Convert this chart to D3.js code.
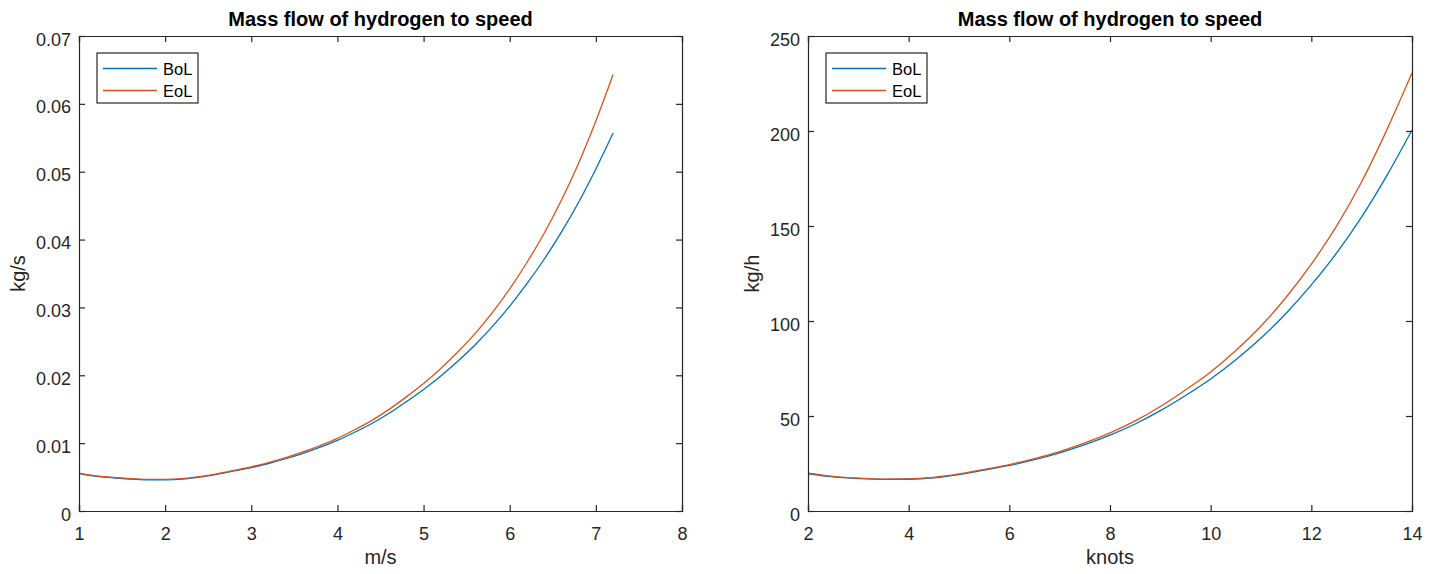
<!DOCTYPE html>
<html>
<head>
<meta charset="utf-8">
<script src="https://cdn.jsdelivr.net/npm/d3@7"></script>
<style>
  html, body { margin: 0; padding: 0; background: #ffffff; }
  svg { display: block; font-family: "Liberation Sans", Arial, Helvetica, sans-serif; }
</style>
</head>
<body>
<svg id="chart" width="1434" height="574"></svg>
<script>
// ---------- DATA ----------
const seriesNames = ["BoL", "EoL"];
const seriesColors = ["#0072BD", "#D95319"];

// Left panel: speed in m/s, mass flow in kg/s
const leftSpeed = [1.0, 1.2, 1.4, 1.6, 1.8, 2.0, 2.2, 2.4, 2.6, 2.8, 3.0, 3.2, 3.4, 3.6, 3.8, 4.0,
                   4.2, 4.4, 4.6, 4.8, 5.0, 5.2, 5.4, 5.6, 5.8, 6.0, 6.2, 6.4, 6.6, 6.8, 7.0, 7.2];
const leftBoL = [0.0055, 0.0051, 0.0049, 0.0047, 0.0046, 0.0046, 0.0047, 0.0050, 0.0054, 0.0059, 0.0064,
                 0.0070, 0.0077, 0.0085, 0.0094, 0.0104, 0.0116, 0.0129, 0.0144, 0.0161, 0.0179, 0.0199,
                 0.0221, 0.0245, 0.0272, 0.0302, 0.0335, 0.0371, 0.0411, 0.0455, 0.0504, 0.0557];
const leftEoL = [0.00558, 0.00517, 0.00497, 0.00476, 0.00466, 0.00466, 0.00476, 0.00507, 0.00548, 0.00600,
                 0.00651, 0.00714, 0.00786, 0.00870, 0.00965, 0.01070, 0.01197, 0.01336, 0.01498, 0.01682,
                 0.01879, 0.02100, 0.02346, 0.02617, 0.02926, 0.03274, 0.03662, 0.04093, 0.04580, 0.05126,
                 0.05746, 0.06432];
const leftXTicks = [1, 2, 3, 4, 5, 6, 7, 8];
const leftYTicks = [0, 0.01, 0.02, 0.03, 0.04, 0.05, 0.06, 0.07];
const leftYTickLabels = ["0", "0.01", "0.02", "0.03", "0.04", "0.05", "0.06", "0.07"];

// Right panel: speed in knots, mass flow in kg/h
const rightSpeed = [2, 2.5, 3, 3.5, 4, 4.5, 5, 5.5, 6, 6.5, 7, 7.5, 8, 8.5, 9, 9.5, 10, 10.5, 11, 11.5,
                    12, 12.5, 13, 13.5, 14];
const rightBoL = [19.6, 18.0, 17.1, 16.6, 16.7, 17.5, 19.2, 21.5, 24.0, 27.0, 30.6, 34.9, 39.9, 45.8, 52.8,
                  60.8, 69.5, 79.6, 91.0, 104.1, 119.0, 135.7, 154.8, 176.5, 200.5];
const rightEoL = [19.9, 18.25, 17.3, 16.8, 16.9, 17.7, 19.5, 21.9, 24.4, 27.6, 31.3, 35.8, 41.1, 47.4, 55.0,
                  63.7, 73.2, 84.5, 97.4, 112.5, 129.9, 149.9, 173.3, 200.6, 230.5];
const rightXTicks = [2, 4, 6, 8, 10, 12, 14];
const rightYTicks = [0, 50, 100, 150, 200, 250];
const rightYTickLabels = ["0", "50", "100", "150", "200", "250"];

const titleText = "Mass flow of hydrogen to speed";

// ---------- DRAWING ----------
const svg = d3.select("#chart");
const axisColor = "#262626";
const tickLen = 6;

function drawPanel(cfg) {
  const g = svg.append("g");
  const x = d3.scaleLinear().domain(cfg.xDomain).range([cfg.left, cfg.right]);
  const y = d3.scaleLinear().domain(cfg.yDomain).range([cfg.bottom, cfg.top]);

  // series lines
  const line = d3.line()
    .x(d => x(d[0]))
    .y(d => y(d[1]))
    .curve(d3.curveMonotoneX);
  cfg.series.forEach((vals, i) => {
    const pts = cfg.xs.map((v, k) => [v, vals[k]]);
    g.append("path")
      .attr("d", line(pts))
      .attr("fill", "none")
      .attr("stroke", seriesColors[i])
      .attr("stroke-width", 1.3);
  });

  // bottom axis (ticks inside)
  const xAxisB = d3.axisBottom(x).tickValues(cfg.xTicks).tickSize(-tickLen).tickPadding(16)
    .tickFormat(d3.format("d"));
  const gb = g.append("g").attr("transform", `translate(0,${cfg.bottom})`).call(xAxisB);
  // top axis (ticks inside, no labels)
  const xAxisT = d3.axisTop(x).tickValues(cfg.xTicks).tickSize(-tickLen).tickFormat("");
  const gt = g.append("g").attr("transform", `translate(0,${cfg.top})`).call(xAxisT);
  // left axis
  const yAxisL = d3.axisLeft(y).tickValues(cfg.yTicks).tickSize(-tickLen).tickPadding(8)
    .tickFormat((d, i) => cfg.yTickLabels[i]);
  const gl = g.append("g").attr("transform", `translate(${cfg.left},0)`).call(yAxisL);
  // right axis
  const yAxisR = d3.axisRight(y).tickValues(cfg.yTicks).tickSize(-tickLen).tickFormat("");
  const gr = g.append("g").attr("transform", `translate(${cfg.right},0)`).call(yAxisR);

  [gb, gt, gl, gr].forEach(a => {
    a.select(".domain").attr("stroke", axisColor).attr("stroke-width", 1.2);
    a.selectAll(".tick line").attr("stroke", axisColor).attr("stroke-width", 1.2);
    a.selectAll(".tick text")
      .attr("fill", axisColor)
      .attr("font-size", 18)
      .attr("font-family", "'Liberation Sans', Arial, Helvetica, sans-serif");
  });
  gl.selectAll(".tick text").attr("dy", "0.5em");

  // title
  g.append("text")
    .attr("x", (cfg.left + cfg.right) / 2)
    .attr("y", 26)
    .attr("text-anchor", "middle")
    .attr("font-size", 20)
    .attr("font-weight", "bold")
    .attr("fill", "#000000")
    .text(titleText);

  // x label
  g.append("text")
    .attr("x", (cfg.left + cfg.right) / 2)
    .attr("y", 564)
    .attr("text-anchor", "middle")
    .attr("font-size", 20)
    .attr("fill", axisColor)
    .text(cfg.xLabel);

  // y label
  g.append("text")
    .attr("transform", `translate(${cfg.ylabelX},${(cfg.top + cfg.bottom) / 2}) rotate(-90)`)
    .attr("text-anchor", "middle")
    .attr("font-size", 20)
    .attr("fill", axisColor)
    .text(cfg.yLabel);

  // legend
  const lx = cfg.left + 18, ly = 53, lw = 101, lh = 50;
  const lg = g.append("g");
  lg.append("rect")
    .attr("x", lx).attr("y", ly).attr("width", lw).attr("height", lh)
    .attr("fill", "#ffffff").attr("stroke", axisColor).attr("stroke-width", 1.2);
  seriesNames.forEach((name, i) => {
    const cy = ly + 15.5 + i * 22;
    lg.append("line")
      .attr("x1", lx + 6).attr("x2", lx + 60)
      .attr("y1", cy).attr("y2", cy)
      .attr("stroke", seriesColors[i]).attr("stroke-width", 1.3);
    lg.append("text")
      .attr("x", lx + 66).attr("y", cy + 6.5)
      .attr("font-size", 16.5)
      .attr("fill", "#000000")
      .text(name);
  });
}

drawPanel({
  left: 79, right: 682, top: 36, bottom: 511,
  xDomain: [1, 8], yDomain: [0, 0.07],
  xs: leftSpeed, series: [leftBoL, leftEoL],
  xTicks: leftXTicks, yTicks: leftYTicks, yTickLabels: leftYTickLabels,
  xLabel: "m/s", yLabel: "kg/s", ylabelX: 25
});

drawPanel({
  left: 808, right: 1412, top: 36, bottom: 511,
  xDomain: [2, 14], yDomain: [0, 250],
  xs: rightSpeed, series: [rightBoL, rightEoL],
  xTicks: rightXTicks, yTicks: rightYTicks, yTickLabels: rightYTickLabels,
  xLabel: "knots", yLabel: "kg/h", ylabelX: 759
});
</script>
</body>
</html>
